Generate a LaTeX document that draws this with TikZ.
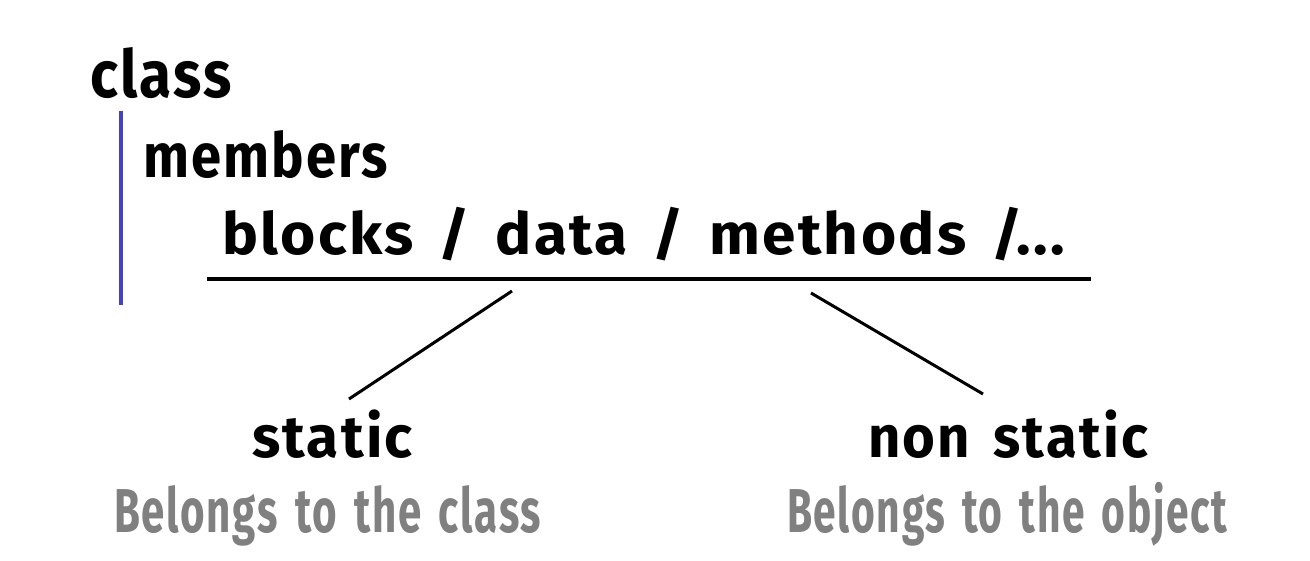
\documentclass[tikz,border=0pt]{standalone}
\usepackage{fontspec}
\setmainfont{Fira Sans}[LetterSpace=4,WordSpace=1.5]
\usepackage{graphicx}
\definecolor{barblue}{RGB}{66,66,196}
\definecolor{subgray}{RGB}{128,128,128}
\newcommand\fitl[3]{\resizebox{#1}{#2}{\smash{#3}\vphantom{l}}}
\newcommand\fitt[3]{\resizebox{#1}{#2}{\smash{#3}\vphantom{t}}}
\tikzset{
  lbl/.style={anchor=base west, inner sep=0pt, outer sep=0pt, font=\bfseries, text=black},
  sub/.style={anchor=base west, inner sep=0pt, outer sep=0pt, font=\bfseries, text=subgray},
  conn/.style={line width=3pt, black},
}
\begin{document}
\begin{tikzpicture}[x=1pt,y=-1pt]
\useasboundingbox (0,0) rectangle (1310,560);
\node[lbl] (cls) at (90,97) {\fitl{142pt}{50pt}{class}};
\node[lbl] (mem) at (143,177) {\fitl{245pt}{47pt}{members}};
\node[lbl] (items) at (222,254) {\fitl{843pt}{44pt}{blocks / data / methods /...}};
\node[lbl] (st) at (252,457) {\fitt{161pt}{39pt}{static}};
\node[lbl] (nst) at (868,457) {\fitt{280pt}{39pt}{non static}};
\node[sub] (bc) at (114,532) {\fitl{427pt}{47pt}{Belongs to the class}};
\node[sub] (bo) at (787,532) {\fitl{440pt}{47pt}{Belongs to the object}};
% blue bar
\coordinate (barT) at (121,111);
\coordinate (barB) at (121,305);
\draw[line width=4pt, barblue] (barT) -- (barB);
% underline
\coordinate (ulL) at (207,279);
\coordinate (ulR) at (1091,279);
\draw[line width=4.5pt] (ulL) -- (ulR);
% diagonals
\coordinate (dA1) at (512,291);
\coordinate (dA2) at (349,399);
\coordinate (dB1) at (811,293);
\coordinate (dB2) at (983,394);
\draw[conn] (dA1) -- (dA2);
\draw[conn] (dB1) -- (dB2);
\end{tikzpicture}
\end{document}
